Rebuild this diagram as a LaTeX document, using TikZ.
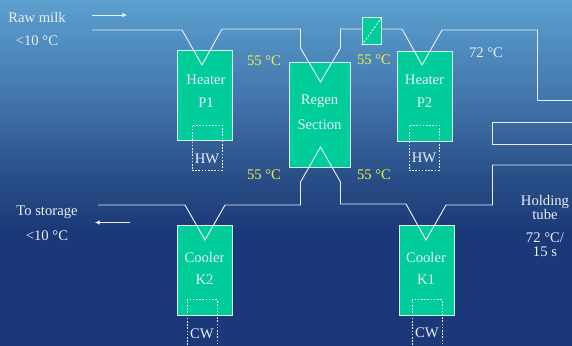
\documentclass[tikz,border=0pt]{standalone}
\usepackage{fontspec}
\setmainfont{Liberation Serif}
\usetikzlibrary{arrows.meta}
\definecolor{bgA}{RGB}{92,160,207}
\definecolor{bgB}{RGB}{66,118,172}
\definecolor{bgC}{RGB}{42,80,136}
\definecolor{bgD}{RGB}{27,57,120}
\definecolor{hx}{RGB}{0,205,153}
\definecolor{hxedge}{RGB}{215,240,235}
\definecolor{txt}{RGB}{232,238,244}
\definecolor{temp}{RGB}{240,240,70}
\definecolor{pipecol}{RGB}{232,238,246}
\pgfdeclareverticalshading{bgshade}{100bp}{
 color(0bp)=(bgD); color(25bp)=(bgD); color(41.5bp)=(bgD); color(50bp)=(bgC); color(61bp)=(bgB); color(75bp)=(bgA); color(100bp)=(bgA)}
\tikzset{
 x=0.75pt,y=-0.75pt,
 hxbox/.style={draw=hxedge,line width=0.65pt,fill=hx,inner sep=0pt,minimum width=41.25pt,minimum height=67.5pt},
 regenbox/.style={hxbox,minimum width=45.4pt,minimum height=78.75pt},
 valvebox/.style={hxbox,minimum width=14.6pt,minimum height=20.6pt},
 dashbox/.style={draw=txt,dash pattern=on 1.2pt off 1.2pt,line width=0.65pt,inner sep=0pt,minimum width=22.5pt,minimum height=33.75pt},
 pipe/.style={draw=pipecol,line width=0.7pt},
 flowarrow/.style={draw=pipecol,line width=0.6pt,-{Latex[length=3.5pt,width=3.5pt]}},
 lbl/.style={text=txt,font=\fontsize{11}{10.5}\selectfont,align=center,inner sep=0pt},
 wide/.style={lbl},
 templbl/.style={lbl,text=temp},
}
\begin{document}
\begin{tikzpicture}
\useasboundingbox (0,0) rectangle (572,346);
\shade[shading=bgshade] (0,0) rectangle (572,346);
% boxes
\node[hxbox] (P1) at (204.5,95) {};
\node[hxbox] (P2) at (424.5,96.5) {};
\node[regenbox] (R) at (320,114.5) {};
\node[hxbox] (K2) at (204.5,270) {};
\node[hxbox] (K1) at (426.5,270) {};
\node[valvebox] (V) at (371.8,31.2) {};
\draw[draw=white,dash pattern=on 1.5pt off 1.2pt,line width=0.6pt] (V.south west) -- (V.north east);
% water loops
\node[dashbox] (HWa) at (207,147.5) {};
\node[dashbox] (HWb) at (424,147.5) {};
\node[dashbox,minimum height=35pt] (CWa) at (202,323) {};
\node[dashbox,minimum height=35pt] (CWb) at (427,323) {};
% pipe free ends
\coordinate (rawin) at (92,30);
\coordinate (hot) at (572,100.5);
\coordinate (tubea) at (572,122.5);
\coordinate (tubeb) at (572,144);
\coordinate (tubec) at (572,165);
\coordinate (store) at (98,205);
\coordinate (a1s) at (92,15);\coordinate (a1e) at (127,15);
\coordinate (a2s) at (130,222.5);\coordinate (a2e) at (95,222.5);
% pipes
\draw[pipe] (rawin) -- (182,30) -- (202,65) -- (222,29) -- (300.5,29) -- (300.5,48) -- (320.5,82) -- (340.5,48) -- (340.5,29) -- (V.west |- 0,29);
\draw[pipe] (V.east |- 0,29) -- (402,29) -- (422,65) -- (442,30) -- (537.5,30) -- (537.5,100.5) -- (hot);
\draw[pipe] (tubea) -- (492.5,122.5) -- (492.5,144) -- (tubeb);
\draw[pipe] (tubec) -- (492.5,165) -- (492.5,205) -- (446,205) -- (426,240) -- (406,204) -- (340.5,204) -- (340.5,182) -- (320.5,147) -- (300.5,182) -- (300.5,205) -- (225,205) -- (205,240) -- (185,205) -- (store);
\draw[flowarrow] (a1s) -- (a1e);
\draw[flowarrow] (a2s) -- (a2e);
% labels
\node[wide] (t1) at (37,17) {Raw milk};
\node[wide] (t2) at (37,41) {<10 °C};
\node[wide] (t3) at (47,212) {To storage};
\node[wide] (t4) at (47,236) {<10 °C};
\node[wide] (tP1) at (206,80) {Heater};
\node[wide] (tP1b) at (206,103) {P1};
\node[wide] (tP2) at (424.5,80) {Heater};
\node[wide] (tP2b) at (424.5,103) {P2};
\node[wide] (tR1) at (319.5,101) {Regen};
\node[wide] (tR2) at (319.5,125) {Section};
\node[wide] (tK2) at (204.5,257) {Cooler};
\node[wide] (tK2b) at (204.5,280) {K2};
\node[wide] (tK1) at (426,257) {Cooler};
\node[wide] (tK1b) at (426,280) {K1};
\node[lbl] (hw1) at (207,159) {HW};
\node[lbl] (hw2) at (424,158) {HW};
\node[lbl] (cw1) at (202,334) {CW};
\node[lbl] (cw2) at (427,333) {CW};
\node[templbl] (c1) at (264,61) {55 °C};
\node[templbl] (c2) at (374,60) {55 °C};
\node[templbl] (c3) at (264,175) {55 °C};
\node[templbl] (c4) at (374,175) {55 °C};
\node[lbl] (c5) at (486,53) {72 °C};
\node[lbl] (ht) at (545,207) {Holding\\tube};
\node[lbl] (ht2) at (545,245) {72 °C/\\15 s};
\end{tikzpicture}
\end{document}
